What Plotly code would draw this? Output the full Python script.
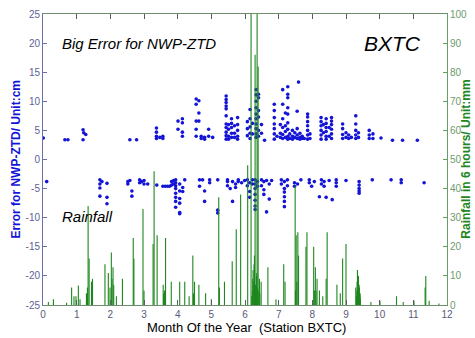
import plotly.graph_objects as go

# Rainfall accumulated in 6 hours (month of year, mm)
rain_events = [
    (0.16, 1.0), (0.31, 2.0), (0.70, 0.8), (0.85, 6.0), (0.92, 3.0), (0.98, 3.0),
    (1.05, 6.7), (1.10, 2.0), (1.29, 4.0), (1.31, 3.0), (1.32, 6.0), (1.34, 34.0),
    (1.37, 16.0), (1.44, 8.0), (1.47, 9.0), (1.84, 14.0), (1.94, 11.0), (1.99, 6.0),
    (2.03, 18.0), (2.05, 9.0), (2.08, 13.0), (2.10, 7.0), (2.18, 3.0), (2.36, 9.0),
    (2.68, 23.0), (2.70, 16.0), (2.97, 33.0), (3.00, 5.0), (3.27, 21.0), (3.30, 46.0),
    (3.39, 24.0), (3.57, 7.0), (3.58, 4.0), (3.61, 5.0), (3.62, 3.0), (3.64, 23.0),
    (3.81, 8.0), (4.06, 8.0), (4.21, 8.0), (4.34, 3.0), (4.45, 17.0), (4.47, 4.0),
    (4.50, 8.0), (4.63, 7.0), (4.83, 4.0), (5.00, 2.0), (5.22, 37.0), (5.24, 6.0),
    (5.39, 8.0), (5.62, 15.0), (5.74, 26.0), (5.87, 38.0), (6.08, 48.0), (6.18, 100.0),
    (6.20, 3.0), (6.22, 5.0), (6.23, 9.0), (6.24, 12.0), (6.26, 8.0), (6.27, 14.0),
    (6.28, 17.0), (6.29, 4.0), (6.30, 86.0), (6.31, 7.0), (6.32, 6.0), (6.33, 5.0),
    (6.34, 10.0), (6.35, 11.0), (6.36, 100.0), (6.37, 6.0), (6.38, 3.0), (6.39, 82.0),
    (6.41, 5.0), (6.43, 9.0), (6.44, 4.0), (6.48, 8.0), (6.68, 13.0), (6.92, 2.0),
    (7.15, 14.0), (7.19, 8.0), (7.49, 41.0), (7.50, 5.0), (7.52, 24.0), (7.54, 8.0),
    (7.57, 25.0), (7.59, 17.0), (7.81, 20.0), (7.84, 25.0), (8.04, 20.0), (8.06, 5.0),
    (8.09, 13.0), (8.11, 5.0), (8.14, 9.0), (8.21, 5.0), (8.31, 3.0), (8.41, 9.0),
    (8.44, 25.0), (8.73, 7.0), (8.83, 4.0), (8.90, 16.0), (9.00, 21.0), (9.29, 6.0),
    (9.31, 3.0), (9.32, 5.0), (9.33, 8.0), (9.34, 12.0), (9.36, 4.0), (9.37, 10.0),
    (9.38, 5.0), (9.39, 7.0), (9.40, 6.0), (9.41, 3.0), (9.42, 4.0), (9.43, 2.0),
    (9.74, 1.0), (10.01, 1.5), (10.50, 3.0), (10.70, 1.0), (11.02, 1.5), (11.35, 6.0),
    (11.37, 10.0), (11.47, 1.5), (11.76, 0.5),
]

# Large positive NWP-ZTD errors: (month, [errors in cm])
positive_errors = [
    (0.01, [3.7]), (0.65, [3.4]), (0.74, [3.4]),
    (1.19, [5.1, 3.4]), (1.21, [4.6]), (1.27, [4.3]),
    (2.58, [3.4]), (2.78, [3.4]),
    (3.37, [5.4, 4.7, 4.0, 3.6]), (3.47, [3.8]), (3.56, [4.0, 3.6]),
    (4.01, [6.6, 5.2]), (4.14, [7.0, 6.3, 4.7, 4.0]),
    (4.55, [10.4, 9.5, 6.6, 5.2, 4.0]), (4.63, [10.1, 8.0, 6.6]), (4.70, [4.0, 3.6]),
    (4.80, [3.8, 3.5]), (4.92, [5.2, 4.0]), (5.04, [3.8]),
    (5.44, [10.9, 10.3, 9.8, 9.2, 8.7, 7.5, 6.1, 5.5, 4.7, 4.1, 3.5]),
    (5.51, [6.0, 5.2, 4.0, 3.5]), (5.60, [7.0, 6.2, 5.5, 4.5, 3.8]),
    (5.69, [5.8, 4.5, 3.8]), (5.78, [7.2, 6.0, 5.0, 4.0, 3.5]),
    (6.07, [6.5, 5.3, 4.1]), (6.15, [8.6, 7.0, 5.6, 4.5, 3.6]), (6.22, [6.2, 4.4]),
    (6.33, [12.0, 11.1, 10.0, 8.9, 7.8, 7.0, 6.1, 5.3, 4.4, 3.8]),
    (6.40, [11.2, 10.6, 8.4, 7.3, 5.0, 4.0]), (6.49, [6.0, 4.5]), (6.58, [3.3]),
    (6.87, [9.5, 8.4, 7.2, 6.1, 5.3, 4.4, 3.5]), (6.95, [4.0]),
    (7.05, [6.0, 4.5, 3.8]), (7.12, [12.0, 9.5, 7.0, 5.5, 4.3, 3.6]),
    (7.20, [8.0, 5.8, 4.8, 3.8]),
    (7.27, [12.5, 11.2, 10.6, 8.9, 7.8, 6.3, 5.2, 4.0, 3.5]), (7.33, [4.4, 3.6]),
    (7.41, [5.0, 4.0, 3.5]), (7.48, [4.6, 3.8]), (7.55, [8.3, 5.3, 4.2, 3.6]),
    (7.59, [13.3]), (7.63, [4.5, 3.8, 3.5]), (7.70, [4.0, 3.6]), (7.76, [3.6]),
    (7.86, [7.8, 7.3, 6.5, 5.8, 5.0, 4.2, 3.5]), (7.93, [4.4, 3.6]),
    (8.26, [7.2, 6.5, 5.8, 5.0, 4.2, 3.5]), (8.33, [6.0, 4.6]),
    (8.41, [7.0, 6.2, 5.5, 4.8, 4.0, 3.5]),
    (8.50, [5.5, 4.0]), (8.57, [7.2, 6.6, 6.0, 5.2, 4.4, 3.6]),
    (8.90, [6.1, 5.3, 4.3, 3.6]), (9.00, [4.6, 3.8]), (9.08, [4.2, 3.6]), (9.16, [3.8]),
    (9.29, [7.5, 6.1, 5.0, 4.2, 3.6]), (9.37, [4.6, 3.8]),
    (9.69, [5.0, 4.2, 3.6]), (9.80, [4.4, 3.6]),
    (10.04, [3.7]), (10.38, [3.3]), (10.68, [3.3]), (11.12, [3.3]),
]

# Large negative NWP-ZTD errors: (month, [errors in cm])
negative_errors = [
    (0.11, [-3.8]),
    (1.69, [-3.5, -4.2, -4.9, -6.3]), (1.75, [-3.8]), (1.90, [-4.1, -6.5, -7.6]),
    (2.52, [-3.8, -4.2]), (2.58, [-3.6]), (2.64, [-5.4, -6.3]),
    (2.87, [-3.5, -4.0]), (2.93, [-3.8]), (3.00, [-3.6, -4.2]), (3.11, [-4.2]),
    (3.38, [-4.4]), (3.56, [-4.6]), (3.63, [-4.6]), (3.70, [-4.6]), (3.76, [-4.6]),
    (3.82, [-4.4, -3.8]), (3.88, [-4.2, -3.6]),
    (3.94, [-3.5, -4.0, -4.5, -5.0, -5.8, -6.5, -7.2, -8.2]),
    (4.06, [-4.2, -5.4, -6.7, -7.5, -9.1, -9.3]), (4.15, [-4.8, -5.5]), (4.21, [-3.5]),
    (4.65, [-3.5, -4.6]), (4.74, [-3.5]), (4.80, [-5.4, -7.2]),
    (4.95, [-3.5, -4.0]), (5.19, [-3.5, -8.7, -9.2]),
    (5.48, [-3.5, -3.8, -4.5]), (5.56, [-5.0]), (5.63, [-3.8, -7.2]),
    (5.72, [-4.2, -4.8]), (5.80, [-3.5, -3.8]), (5.90, [-4.0]), (5.99, [-3.6]),
    (6.07, [-3.5, -4.5]), (6.14, [-4.0, -5.5, -6.5]), (6.22, [-3.5, -4.2]),
    (6.30, [-3.5, -4.2, -5.0, -6.0, -7.0, -8.0, -8.6]), (6.37, [-3.8, -4.6]),
    (6.49, [-3.5, -4.5]), (6.56, [-3.8, -5.2, -6.0]), (6.64, [-3.6, -9.0]),
    (6.72, [-4.2, -6.8]), (6.79, [-3.6]),
    (7.08, [-3.5, -4.2]), (7.17, [-3.8, -5.0, -5.6, -6.4, -7.2, -8.1]), (7.26, [-3.5, -4.5]),
    (7.47, [-4.0, -4.6]), (7.56, [-4.2]), (7.66, [-3.5]),
    (7.91, [-3.5, -4.0]), (7.98, [-4.6]), (8.06, [-3.8]),
    (8.21, [-6.4]), (8.27, [-3.5, -4.2]), (8.35, [-3.8, -4.6]), (8.41, [-6.5]),
    (8.50, [-3.6]), (8.59, [-6.9]),
    (8.71, [-3.5, -4.0, -4.6]), (9.00, [-3.6]),
    (9.39, [-3.8, -4.4, -5.0, -5.4, -5.8]), (9.78, [-3.5]), (10.34, [-3.5]),
    (10.64, [-3.5, -4.0]), (11.32, [-4.0]),
]

month_ticks = list(range(0, 13))
error_ticks = list(range(-25, 26, 5))
rain_ticks = list(range(0, 101, 10))

# Rainfall drawn as thin vertical stems from zero up to each value
stem_x, stem_y = [], []
for m, r in rain_events:
    stem_x += [m, m, None]
    stem_y += [0, r, None]

err_month, err_cm = [], []
for m, vals in positive_errors + negative_errors:
    for v in vals:
        err_month.append(m)
        err_cm.append(v)

FONT = "Liberation Sans, Arial, sans-serif"
BLUE = "rgb(20,20,215)"
GREEN = "rgb(30,135,30)"

fig = go.Figure()

fig.add_trace(go.Scatter(
    x=err_month, y=err_cm, mode="markers",
    marker=dict(symbol="circle", size=3.6, color=BLUE, line=dict(width=0)),
    yaxis="y", showlegend=False, hoverinfo="skip",
))

fig.add_trace(go.Scatter(
    x=stem_x, y=stem_y, mode="lines",
    line=dict(color=GREEN, width=1.1),
    yaxis="y2", showlegend=False, hoverinfo="skip", connectgaps=False,
))

fig.update_layout(
    width=475, height=338, autosize=False,
    margin=dict(l=43, r=27, t=8, b=33, pad=0),
    paper_bgcolor="white", plot_bgcolor="white",
    font=dict(family=FONT, size=10, color="rgb(90,90,130)"),
    xaxis=dict(
        range=[0, 12], tickvals=month_ticks, ticktext=[str(t) for t in month_ticks],
        showgrid=False, zeroline=False,
        showline=True, linecolor="rgb(110,140,110)", linewidth=1, mirror="ticks",
        ticks="inside", ticklen=5, tickcolor="rgb(90,90,110)",
        tickfont=dict(family=FONT, size=10, color="rgb(90,90,120)"),
    ),
    yaxis=dict(
        range=[-25, 25], tickvals=error_ticks, ticktext=[str(t) for t in error_ticks],
        showgrid=False, zeroline=False,
        showline=True, linecolor="rgb(110,110,170)", linewidth=1,
        ticks="inside", ticklen=4, tickcolor="rgb(110,110,170)",
        tickfont=dict(family=FONT, size=10, color="rgb(95,95,150)"),
    ),
    yaxis2=dict(
        range=[0, 100], tickvals=rain_ticks, ticktext=[str(t) for t in rain_ticks],
        overlaying="y", side="right",
        showgrid=False, zeroline=False,
        showline=True, linecolor="rgb(100,160,100)", linewidth=1,
        ticks="inside", ticklen=4, tickcolor="rgb(100,160,100)",
        tickfont=dict(family=FONT, size=10, color="rgb(110,155,110)"),
    ),
)

annotations = [
    dict(text="<i>Big Error for NWP-ZTD</i>", x=0.042, y=0.897, xanchor="left", yanchor="middle",
         font=dict(family=FONT, size=15, color="black")),
    dict(text="<i>BXTC</i>", x=0.94, y=0.9, xanchor="right", yanchor="middle",
         font=dict(family=FONT, size=21, color="black")),
    dict(text="<i>Rainfall</i>", x=0.042, y=0.303, xanchor="left", yanchor="middle",
         font=dict(family=FONT, size=15, color="black")),
    dict(text="<b>Error for NWP-ZTD/ Unit:cm</b>", x=-0.069, y=0.5, textangle=-90,
         xanchor="center", yanchor="middle",
         font=dict(family=FONT, size=12, color=BLUE)),
    dict(text="<b>Rainfall in 6 hours/ Unit:mm</b>", x=1.045, y=0.5, textangle=-90,
         xanchor="center", yanchor="middle",
         font=dict(family=FONT, size=12, color=GREEN)),
    dict(text="Month Of the Year \u00a0(Station BXTC)", x=0.503, y=-0.078,
         xanchor="center", yanchor="middle",
         font=dict(family=FONT, size=13, color="black")),
]
for a in annotations:
    a.update(xref="paper", yref="paper", showarrow=False)
fig.update_layout(annotations=annotations)

fig.write_html("out.html")
